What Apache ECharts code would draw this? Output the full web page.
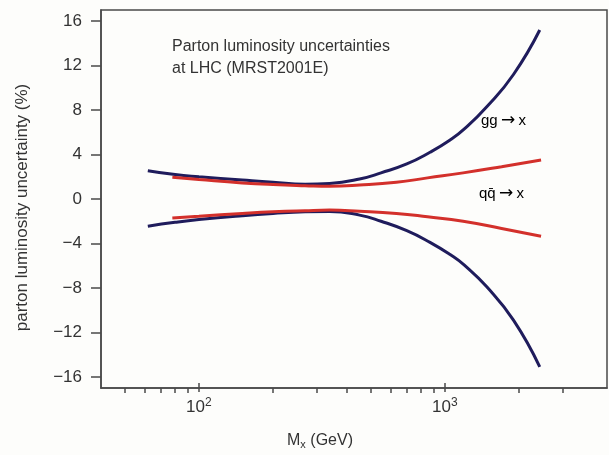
<!DOCTYPE html>
<html>
<head>
<meta charset="utf-8">
<script src="https://cdn.jsdelivr.net/npm/echarts@6.0.0/dist/echarts.min.js"></script>
<style>
  html, body { margin: 0; padding: 0; background: #fdfdfb; }
  #chart { width: 609px; height: 455px; }
</style>
</head>
<body>
<div id="chart"></div>
<script>
// masses (GeV) and uncertainties (%)
var massGG = [62, 80, 100, 150, 200, 270, 340, 450, 550, 700, 870, 1050, 1200, 1480, 1900, 2430];
var ggUpper = [2.55, 2.2, 2.0, 1.7, 1.5, 1.33, 1.4, 1.8, 2.35, 3.15, 4.2, 5.3, 6.3, 8.3, 11.2, 15.2];
var ggLower = [-2.45, -2.1, -1.85, -1.5, -1.3, -1.15, -1.12, -1.45, -2.0, -2.85, -3.9, -5.0, -5.95, -7.9, -10.9, -15.1];

var massQQ = [78, 100, 150, 200, 270, 340, 450, 635, 850, 1186, 1700, 2460];
var qqUpper = [1.95, 1.75, 1.45, 1.3, 1.2, 1.15, 1.25, 1.5, 1.9, 2.35, 2.9, 3.5];
var qqLower = [-1.7, -1.55, -1.3, -1.15, -1.05, -1.0, -1.1, -1.3, -1.6, -2.0, -2.65, -3.35];

// axis ticks
var majorTicks = [100, 1000];
var minorTicks = [50, 60, 70, 80, 90, 200, 300, 400, 500, 600, 700, 800, 900, 2000, 3000];
var yTicks = [-16, -12, -8, -4, 0, 4, 8, 12, 16];
var xMin = 40, xMax = 4560;

var font = "'Liberation Sans Narrow', 'Liberation Sans', Arial, sans-serif";
var axisColor = '#4a4a4a';
var textColor = '#333';
var navy = '#1f1c5c';
var red = '#d3302b';

function lg(v) { return Math.log10(v); }
function pairs(xs, ys) {
  return xs.map(function (x, i) { return [lg(x), ys[i]]; });
}

var chart = echarts.init(document.getElementById('chart'));

var gridBox = { left: 101, top: 10, right: 2, bottom: 67 };

var arrowRich = {
  t: { fontFamily: font, fontSize: 15, color: textColor },
  a: { fontFamily: "'DejaVu Sans', sans-serif", fontSize: 17, color: textColor }
};

var option = {
  backgroundColor: '#fdfdfb',
  animation: false,
  grid: [
    Object.assign({ show: true, borderColor: axisColor, borderWidth: 1.5 }, gridBox),
    Object.assign({ show: false }, gridBox)
  ],
  xAxis: [
    {
      gridIndex: 0,
      type: 'value',
      min: lg(xMin),
      max: lg(xMax),
      axisLine: { onZero: false, lineStyle: { color: axisColor, width: 1.5 } },
      axisTick: { show: true, customValues: minorTicks.map(lg), length: 5, lineStyle: { color: axisColor, width: 1.5 } },
      axisLabel: { show: false },
      splitLine: { show: false }
    },
    {
      gridIndex: 1,
      type: 'value',
      min: lg(xMin),
      max: lg(xMax),
      axisLine: { show: false, onZero: false },
      axisTick: { show: true, customValues: majorTicks.map(lg), length: 9, lineStyle: { color: axisColor, width: 1.5 } },
      axisLabel: {
        customValues: majorTicks.map(lg),
        margin: 14,
        formatter: function (v) {
          return '10{sup|' + Math.round(v) + '}';
        },
        fontFamily: font,
        fontSize: 17,
        color: textColor,
        rich: {
          sup: { fontFamily: font, fontSize: 12, color: textColor, padding: [0, 0, 9, 0] }
        }
      },
      splitLine: { show: false },
      name: 'M{sub|x} (GeV)',
      nameLocation: 'middle',
      nameGap: 48,
      nameTextStyle: {
        fontFamily: font,
        fontSize: 16,
        color: textColor,
        padding: [0, 68, 0, 0],
        rich: {
          sub: { fontFamily: font, fontSize: 11, color: textColor, padding: [8, 0, 0, 0] }
        }
      }
    }
  ],
  yAxis: [
    {
      gridIndex: 0,
      type: 'value',
      min: -17,
      max: 17,
      axisLine: { show: true, lineStyle: { color: axisColor, width: 1.5 } },
      axisTick: { show: true, customValues: yTicks, length: 10, lineStyle: { color: axisColor, width: 1.5 } },
      axisLabel: {
        customValues: yTicks,
        margin: 19,
        fontFamily: font,
        fontSize: 17,
        color: textColor,
        formatter: function (v) { return String(v).replace('-', '\u2212'); }
      },
      splitLine: { show: false },
      name: 'parton luminosity uncertainty (%)',
      nameLocation: 'middle',
      nameGap: 70,
      nameRotate: 90,
      nameTextStyle: { fontFamily: font, fontSize: 17, color: textColor, padding: [0, 17, 0, 0] }
    },
    { gridIndex: 1, type: 'value', min: -17, max: 17, show: false }
  ],
  graphic: [
    {
      type: 'text', left: 172, top: 36,
      style: {
        text: 'Parton luminosity uncertainties\nat LHC (MRST2001E)',
        font: '16px ' + font, fill: textColor, lineHeight: 22
      }
    },
    {
      type: 'text', left: 481, top: 112,
      style: { text: '{t|gg} {a|\u2192} {t|x}', rich: arrowRich }
    },
    {
      type: 'text', left: 479, top: 185,
      style: { text: '{t|qq\u0304} {a|\u2192} {t|x}', rich: arrowRich }
    }
  ],
  series: [
    { type: 'line', name: 'gg upper', data: pairs(massGG, ggUpper), smooth: 0.5, showSymbol: false, lineStyle: { color: navy, width: 3 } },
    { type: 'line', name: 'gg lower', data: pairs(massGG, ggLower), smooth: 0.5, showSymbol: false, lineStyle: { color: navy, width: 3 } },
    { type: 'line', name: 'qq upper', data: pairs(massQQ, qqUpper), smooth: 0.5, showSymbol: false, lineStyle: { color: red, width: 3 } },
    { type: 'line', name: 'qq lower', data: pairs(massQQ, qqLower), smooth: 0.5, showSymbol: false, lineStyle: { color: red, width: 3 } }
  ]
};

chart.setOption(option);
</script>
</body>
</html>
